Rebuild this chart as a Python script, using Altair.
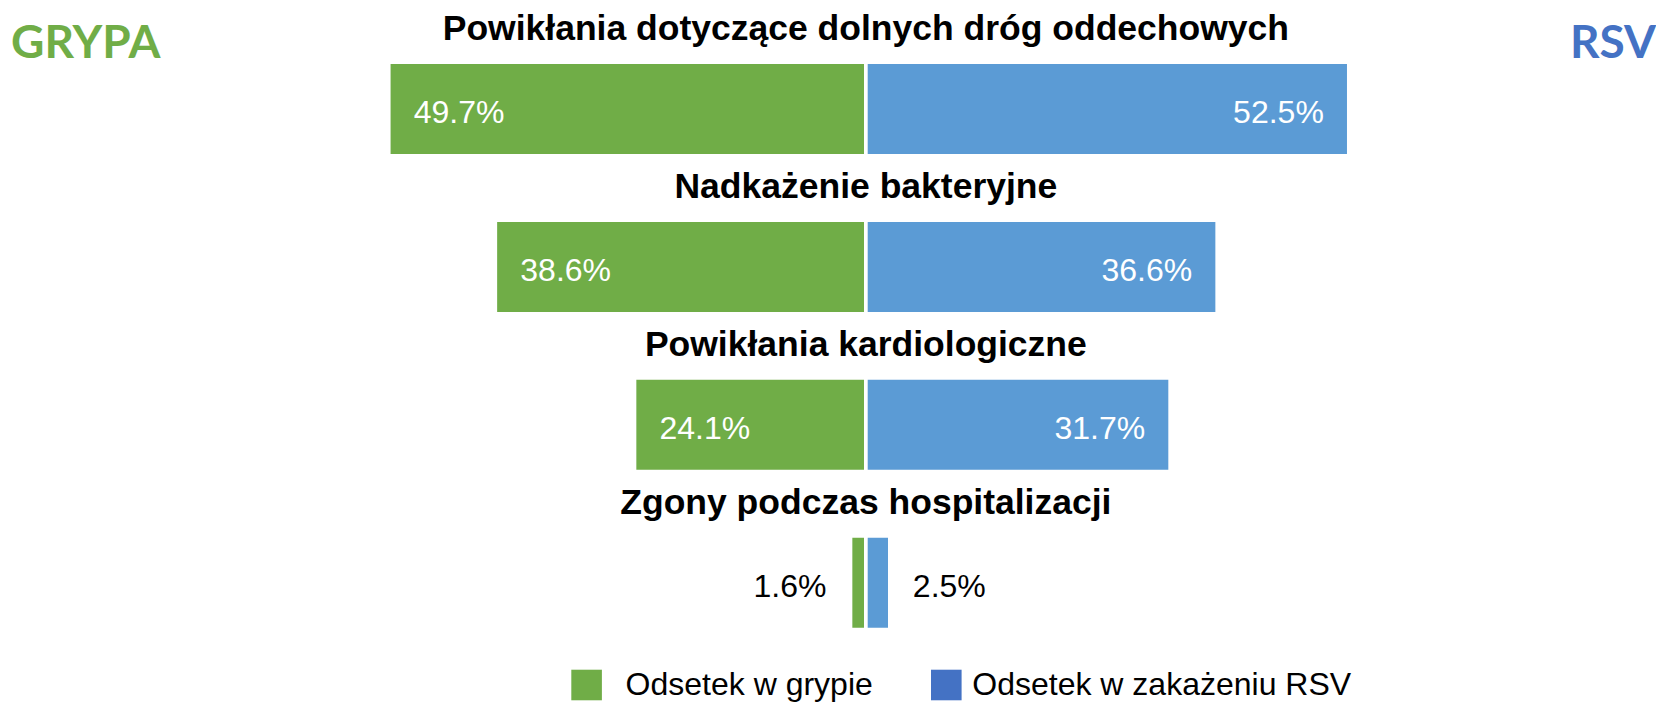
import altair as alt
import pandas as pd

categories = [
    "Powikłania dotyczące dolnych dróg oddechowych",
    "Nadkażenie bakteryjne",
    "Powikłania kardiologiczne",
    "Zgony podczas hospitalizacji",
]
grypa = [49.7, 38.6, 24.1, 1.6]
rsv = [52.5, 36.6, 31.7, 2.5]
series_names = ["Odsetek w grypie", "Odsetek w zakażeniu RSV"]
bar_colors = ["#70AD47", "#5B9BD5"]
legend_colors = ["#70AD47", "#4472C4"]

rows = []
for c, g, r in zip(categories, grypa, rsv):
    rows.append({"cat": c, "series": series_names[0], "value": g, "pos": -g, "label": f"{g:.1f}%"})
    rows.append({"cat": c, "series": series_names[1], "value": r, "pos": r, "label": f"{r:.1f}%"})
df = pd.DataFrame(rows)
cats_df = pd.DataFrame({"cat": categories, "z": [0] * len(categories)})

FONT = "Liberation Sans"

xscale = alt.Scale(domain=[-50.31, 50.31], range=[374.87, 1340.83], clamp=True, nice=False, zero=False)
yscale = alt.Scale(domain=categories, range=[54.15, 621.55], paddingInner=0.4066, paddingOuter=0)

X = alt.X("pos:Q", scale=xscale, axis=None)
Y = alt.Y("cat:N", scale=yscale, axis=None, sort=categories)

base = alt.Chart(df)

bars = base.mark_bar(stroke="white", strokeWidth=3.7).encode(
    x=alt.X("pos:Q", scale=xscale, axis=None, stack=None),
    x2=alt.datum(0),
    y=Y,
    color=alt.Color("series:N", scale=alt.Scale(domain=series_names, range=bar_colors), legend=None),
)

txt = dict(font=FONT, fontSize=32, baseline="alphabetic", dy=14)
in_g = base.mark_text(align="left", dx=25, color="white", **txt).encode(x=X, y=Y, text="label:N").transform_filter(
    (alt.datum.series == series_names[0]) & (alt.datum.value >= 10))
in_r = base.mark_text(align="right", dx=-25, color="white", **txt).encode(x=X, y=Y, text="label:N").transform_filter(
    (alt.datum.series == series_names[1]) & (alt.datum.value >= 10))
out_g = base.mark_text(align="right", dx=-24, color="black", **txt).encode(x=X, y=Y, text="label:N").transform_filter(
    (alt.datum.series == series_names[0]) & (alt.datum.value < 10))
out_r = base.mark_text(align="left", dx=23, color="black", **txt).encode(x=X, y=Y, text="label:N").transform_filter(
    (alt.datum.series == series_names[1]) & (alt.datum.value < 10))

titles = alt.Chart(cats_df).mark_text(
    font=FONT, fontSize=35.5, fontWeight="bold", align="center", baseline="alphabetic", dy=-69, color="black"
).encode(x=alt.X("z:Q", scale=xscale, axis=None), y=Y, text="cat:N")

grypa_t = alt.Chart(cats_df.head(1)).mark_text(
    text="GRYPA", font="Lato", fontSize=46, fontWeight="bold", color="#70AD47", align="left", baseline="alphabetic"
).encode(x=alt.value(3), y=alt.value(50.4))
rsv_t = alt.Chart(cats_df.head(1)).mark_text(
    text="RSV", font="Lato", fontSize=46, fontWeight="bold", color="#4472C4", align="right", baseline="alphabetic"
).encode(x=alt.value(1648), y=alt.value(50.4))


def legend_layer(i, lx, offset):
    d = pd.DataFrame({"series": [series_names[i]], "zero": [0]})
    return alt.Chart(d).mark_bar().encode(
        x=alt.X("zero:Q", scale=xscale, axis=None, stack=None),
        x2=alt.datum(0),
        color=alt.Color(
            "series:N",
            scale=alt.Scale(domain=[series_names[i]], range=[legend_colors[i]]),
            legend=alt.Legend(
                orient="none", legendX=lx, legendY=661, direction="horizontal", title=None,
                symbolType="square", symbolSize=936, symbolStrokeWidth=0, labelFont=FONT, labelFontSize=32,
                labelColor="black", labelOffset=offset, padding=0, labelLimit=0,
            ),
        ),
    )


leg1 = legend_layer(0, 562.6, 23)
leg2 = legend_layer(1, 922.3, 10)

chart = alt.layer(bars, in_g, in_r, out_g, out_r, titles, grypa_t, rsv_t, leg1, leg2).resolve_scale(
    color="independent"
).properties(
    width=1648, height=696, padding=0, autosize=alt.AutoSizeParams(type="none")
).configure_view(stroke=None)

chart.save("out.html", embed_options={"renderer": "svg", "actions": False})
